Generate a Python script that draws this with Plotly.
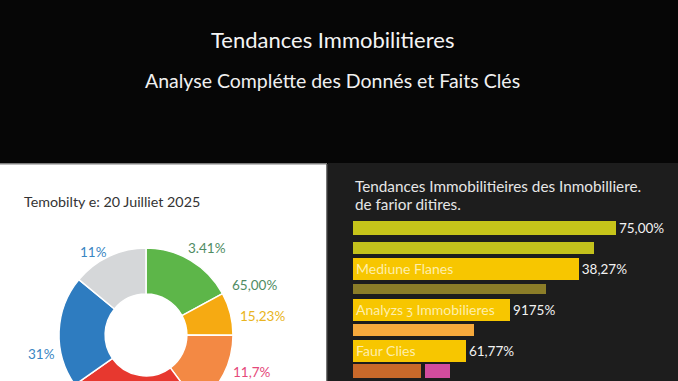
import plotly.graph_objects as go

# ---------------- data ----------------
main_title = "Tendances Immobilitieres"
sub_title = "Analyse Complétte des Donnés et Faits Clés"

donut_title = "Temobilty e: 20 Juilliet 2025"
donut_categories = ["Vert", "Jaune", "Orange", "Rouge", "Bleu", "Gris"]
donut_values = [17.1, 7.9, 14.8, 25.4, 20.7, 14.0]
donut_colors = ["#5db649", "#f6aa12", "#f38944", "#e7382f", "#2e7cc0", "#d5d7d9"]
donut_labels = ["11%", "3.41%", "65,00%", "15,23%", "31%", "11,7%"]
donut_label_colors = ["#3a86c2", "#4f8c63", "#4f8c63", "#e9b420", "#3a86c2", "#e5487a"]

bar_title_1 = "Tendances Immobilitieires des Inmobilliere."
bar_title_2 = "de farior ditires."
bar_categories = ["b1", "b2", "b3", "b4", "b5", "b6", "b7", "b8"]
bar_values = [75.0, 68.7, 64.4, 55.0, 44.8, 34.5, 32.2, 19.4]
bar_inside_text = ["", "", "Mediune Flanes", "", "Analyzs ʒ Immobilieres", "", "Faur Clies", ""]
bar_outside_text = ["75,00%", "", "38,27%", "", "9175%", "", "61,77%", ""]
bar_colors = ["#c6c41a", "#c3c11c", "#f7c600", "#8b7d28", "#f7c600", "#f6a93c", "#f7c600", "#c9692a"]
extra_category = ["b8"]
extra_values = [7.1]
extra_gap = 1.1

# ---------------- layout helpers ----------------
W, H = 678, 430   # figure taller than window: bottom is cropped like the reference
def px(x):
    return x / W
def py(y):
    return 1 - y / H

FONT = "Lato, 'Open Sans', sans-serif"
PANEL_DARK = "#1d1d1d"

fig = go.Figure()

# donut
fig.add_trace(go.Pie(
    labels=donut_categories, values=donut_values, hole=0.47,
    sort=False, direction="clockwise", rotation=0,
    marker=dict(colors=donut_colors, line=dict(color="#ffffff", width=1.5)),
    textinfo="none", hoverinfo="skip", showlegend=False,
    domain=dict(x=[px(59), px(233)], y=[py(422), py(248)]),
))

# bars
bar_widths = [0.69, 0.59, 1.08, 0.47, 1.08, 0.59, 1.08, 0.69]
fig.add_trace(go.Bar(
    y=bar_categories, x=bar_values, orientation="h",
    marker=dict(color=bar_colors, line=dict(width=0)),
    width=bar_widths,
    text=bar_inside_text, textposition="inside", insidetextanchor="start",
    constraintext="none",
    textfont=dict(family=FONT, size=14, color="rgba(255,246,205,0.85)"),
    cliponaxis=False, hoverinfo="skip", showlegend=False,
    xaxis="x", yaxis="y",
))
fig.add_trace(go.Bar(
    y=bar_categories, x=bar_values, orientation="h",
    marker=dict(color="rgba(0,0,0,0)", line=dict(width=0)),
    width=bar_widths,
    text=bar_outside_text, textposition="outside", constraintext="none",
    textfont=dict(family=FONT, size=13.5, color="#f2f2f2"),
    cliponaxis=False, hoverinfo="skip", showlegend=False,
    xaxis="x", yaxis="y",
))
fig.add_trace(go.Bar(
    y=extra_category, x=extra_values, orientation="h",
    base=[bar_values[-1] + extra_gap],
    marker=dict(color="#d24c9e", line=dict(width=0)),
    width=[bar_widths[-1]],
    hoverinfo="skip", showlegend=False,
    xaxis="x", yaxis="y",
))

shapes = [
    # left white panel
    dict(type="rect", xref="paper", yref="paper", x0=0, x1=px(327), y0=0, y1=py(164),
         fillcolor="#ffffff", line=dict(width=0), layer="below"),
    dict(type="line", xref="paper", yref="paper", x0=0, x1=px(327), y0=py(164), y1=py(164),
         line=dict(color="#a8a8a8", width=1.5), layer="below"),
    dict(type="line", xref="paper", yref="paper", x0=px(327), x1=px(327), y0=0, y1=py(164),
         line=dict(color="#4a4a4a", width=1.5), layer="below"),
    # right dark panel
    dict(type="rect", xref="paper", yref="paper", x0=px(328), x1=1, y0=0, y1=py(163),
         fillcolor=PANEL_DARK, line=dict(width=0), layer="below"),
]

annotations = [
    dict(text=main_title, x=px(332), y=py(40), xref="paper", yref="paper", showarrow=False,
         font=dict(family=FONT, size=22, color="#f4f4f4"), xanchor="center", yanchor="middle"),
    dict(text=sub_title, x=px(332), y=py(80), xref="paper", yref="paper", showarrow=False,
         font=dict(family=FONT, size=19.5, color="#f0f0f0"), xanchor="center", yanchor="middle"),
    dict(text=donut_title, x=px(22), y=py(201), xref="paper", yref="paper", showarrow=False,
         font=dict(family=FONT, size=14.3, color="#333333"), xanchor="left", yanchor="middle"),
    dict(text=bar_title_1, x=px(353), y=py(186), xref="paper", yref="paper", showarrow=False,
         font=dict(family=FONT, size=15.3, color="#e6e6e6"), xanchor="left", yanchor="middle"),
    dict(text=bar_title_2, x=px(353), y=py(204), xref="paper", yref="paper", showarrow=False,
         font=dict(family=FONT, size=15.3, color="#e6e6e6"), xanchor="left", yanchor="middle"),
]
label_pos = [(93, 252), (207, 248), (255, 285), (262, 316), (41, 354), (252, 372)]
for t, c, (lx, ly) in zip(donut_labels, donut_label_colors, label_pos):
    annotations.append(dict(text=t, x=px(lx), y=py(ly), xref="paper", yref="paper",
                            showarrow=False, xanchor="center", yanchor="middle",
                            font=dict(family=FONT, size=13.5, color=c)))

fig.update_layout(
    width=W, height=H,
    margin=dict(l=0, r=0, t=0, b=0),
    paper_bgcolor="#060606", plot_bgcolor="rgba(0,0,0,0)",
    barmode="overlay", bargap=0,
    xaxis=dict(domain=[px(353), 1], range=[0, 92.7], visible=False, fixedrange=True),
    yaxis=dict(domain=[py(381.2), py(217.8)], type="category", categoryorder="array",
               categoryarray=bar_categories, autorange="reversed", visible=False, fixedrange=True),
    shapes=shapes, annotations=annotations,
    font=dict(family=FONT),
)

fig.write_html("out.html", config=dict(displayModeBar=False, staticPlot=True),
               post_script="document.body.style.overflow='hidden';document.documentElement.style.overflow='hidden';document.body.style.margin='0';")
